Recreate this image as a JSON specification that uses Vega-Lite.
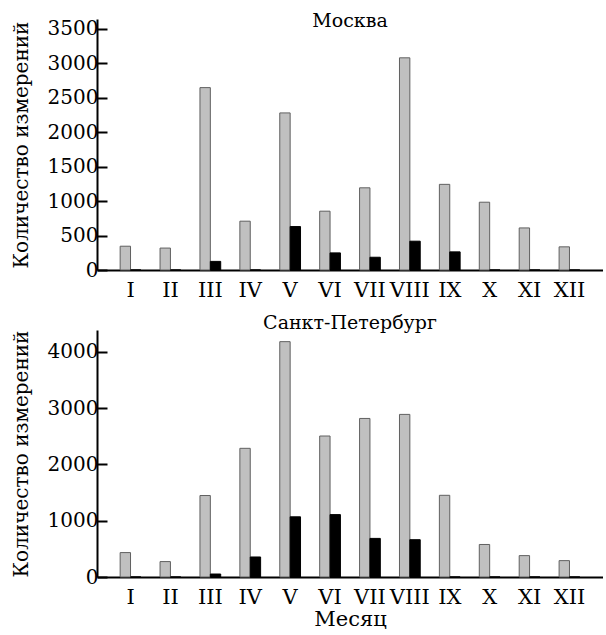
{
  "$schema": "https://vega.github.io/schema/vega-lite/v6.json",
  "background": "white",
  "padding": {"left": 11, "top": 11, "right": 0, "bottom": 0},
  "config": {
    "font": "DejaVu Serif",
    "view": {"stroke": null},
    "axis": {"labelFont": "DejaVu Serif", "titleFont": "DejaVu Serif", "labelColor": "black", "titleColor": "black", "domainColor": "black", "tickColor": "black", "grid": false, "titleFontWeight": "normal"},
    "title": {"font": "DejaVu Serif", "fontSize": 19, "fontWeight": "normal", "color": "black"},
    "concat": {"spacing": 14}
  },
  "data": {"values": [
    {"city": "Москва", "month": "I", "series": "1", "value": 345},
    {"city": "Москва", "month": "II", "series": "1", "value": 318},
    {"city": "Москва", "month": "III", "series": "1", "value": 2645},
    {"city": "Москва", "month": "IV", "series": "1", "value": 708},
    {"city": "Москва", "month": "V", "series": "1", "value": 2278},
    {"city": "Москва", "month": "VI", "series": "1", "value": 853},
    {"city": "Москва", "month": "VII", "series": "1", "value": 1192},
    {"city": "Москва", "month": "VIII", "series": "1", "value": 3077},
    {"city": "Москва", "month": "IX", "series": "1", "value": 1242},
    {"city": "Москва", "month": "X", "series": "1", "value": 983},
    {"city": "Москва", "month": "XI", "series": "1", "value": 610},
    {"city": "Москва", "month": "XII", "series": "1", "value": 336},
    {"city": "Москва", "month": "I", "series": "2", "value": 0},
    {"city": "Москва", "month": "II", "series": "2", "value": 0},
    {"city": "Москва", "month": "III", "series": "2", "value": 125},
    {"city": "Москва", "month": "IV", "series": "2", "value": 0},
    {"city": "Москва", "month": "V", "series": "2", "value": 630},
    {"city": "Москва", "month": "VI", "series": "2", "value": 248},
    {"city": "Москва", "month": "VII", "series": "2", "value": 185},
    {"city": "Москва", "month": "VIII", "series": "2", "value": 418},
    {"city": "Москва", "month": "IX", "series": "2", "value": 263},
    {"city": "Москва", "month": "X", "series": "2", "value": 0},
    {"city": "Москва", "month": "XI", "series": "2", "value": 0},
    {"city": "Москва", "month": "XII", "series": "2", "value": 0},
    {"city": "Санкт-Петербург", "month": "I", "series": "1", "value": 434},
    {"city": "Санкт-Петербург", "month": "II", "series": "1", "value": 274},
    {"city": "Санкт-Петербург", "month": "III", "series": "1", "value": 1448},
    {"city": "Санкт-Петербург", "month": "IV", "series": "1", "value": 2287},
    {"city": "Санкт-Петербург", "month": "V", "series": "1", "value": 4183},
    {"city": "Санкт-Петербург", "month": "VI", "series": "1", "value": 2506},
    {"city": "Санкт-Петербург", "month": "VII", "series": "1", "value": 2818},
    {"city": "Санкт-Петербург", "month": "VIII", "series": "1", "value": 2890},
    {"city": "Санкт-Петербург", "month": "IX", "series": "1", "value": 1452},
    {"city": "Санкт-Петербург", "month": "X", "series": "1", "value": 578},
    {"city": "Санкт-Петербург", "month": "XI", "series": "1", "value": 380},
    {"city": "Санкт-Петербург", "month": "XII", "series": "1", "value": 291},
    {"city": "Санкт-Петербург", "month": "I", "series": "2", "value": 0},
    {"city": "Санкт-Петербург", "month": "II", "series": "2", "value": 0},
    {"city": "Санкт-Петербург", "month": "III", "series": "2", "value": 53},
    {"city": "Санкт-Петербург", "month": "IV", "series": "2", "value": 356},
    {"city": "Санкт-Петербург", "month": "V", "series": "2", "value": 1070},
    {"city": "Санкт-Петербург", "month": "VI", "series": "2", "value": 1109},
    {"city": "Санкт-Петербург", "month": "VII", "series": "2", "value": 686},
    {"city": "Санкт-Петербург", "month": "VIII", "series": "2", "value": 663},
    {"city": "Санкт-Петербург", "month": "IX", "series": "2", "value": 0},
    {"city": "Санкт-Петербург", "month": "X", "series": "2", "value": 0},
    {"city": "Санкт-Петербург", "month": "XI", "series": "2", "value": 0},
    {"city": "Санкт-Петербург", "month": "XII", "series": "2", "value": 0}
  ]},
  "vconcat": [
    {
      "width": 506, "height": 251,
      "title": {"text": "Москва", "offset": -12},
      "transform": [{"filter": "datum.city === 'Москва'"}],
      "mark": {"type": "bar", "strokeWidth": 1},
      "encoding": {
        "x": {"field": "month", "type": "nominal", "sort": ["I","II","III","IV","V","VI","VII","VIII","IX","X","XI","XII"],
              "scale": {"paddingInner": 0.48, "paddingOuter": 0.58},
              "axis": {"title": null, "labelAngle": 0, "ticks": false, "domainWidth": 2, "labelFontSize": 21, "labelPadding": 9}},
        "xOffset": {"field": "series", "type": "nominal", "sort": ["1","2"], "scale": {"paddingInner": 0}},
        "y": {"field": "value", "type": "quantitative", "scale": {"domain": [0, 3640], "nice": false},
              "axis": {"values": [0,500,1000,1500,2000,2500,3000,3500], "format": "d", "tickSize": -10, "tickWidth": 2, "domainWidth": 2, "labelPadding": 9, "labelFontSize": 20, "title": "Количество измерений", "titleFontSize": 20, "titlePadding": 16}},
        "color": {"field": "series", "type": "nominal", "scale": {"domain": ["1","2"], "range": ["#c0c0c0", "#000000"]}, "legend": null},
        "stroke": {"field": "series", "type": "nominal", "scale": {"domain": ["1","2"], "range": ["#606060", "#000000"]}, "legend": null}
      }
    },
    {
      "width": 506, "height": 247,
      "title": {"text": "Санкт-Петербург", "offset": -3},
      "transform": [{"filter": "datum.city === 'Санкт-Петербург'"}],
      "mark": {"type": "bar", "strokeWidth": 1},
      "encoding": {
        "x": {"field": "month", "type": "nominal", "sort": ["I","II","III","IV","V","VI","VII","VIII","IX","X","XI","XII"],
              "scale": {"paddingInner": 0.48, "paddingOuter": 0.58},
              "axis": {"title": "Месяц", "titleFontSize": 21, "titlePadding": 1, "labelAngle": 0, "ticks": false, "domainWidth": 2, "labelFontSize": 21, "labelPadding": 9}},
        "xOffset": {"field": "series", "type": "nominal", "sort": ["1","2"], "scale": {"paddingInner": 0}},
        "y": {"field": "value", "type": "quantitative", "scale": {"domain": [0, 4390], "nice": false},
              "axis": {"values": [0,1000,2000,3000,4000], "format": "d", "tickSize": -10, "tickWidth": 2, "domainWidth": 2, "labelPadding": 9, "labelFontSize": 20, "title": "Количество измерений", "titleFontSize": 20, "titlePadding": 16}},
        "color": {"field": "series", "type": "nominal", "scale": {"domain": ["1","2"], "range": ["#c0c0c0", "#000000"]}, "legend": null},
        "stroke": {"field": "series", "type": "nominal", "scale": {"domain": ["1","2"], "range": ["#606060", "#000000"]}, "legend": null}
      }
    }
  ]
}
